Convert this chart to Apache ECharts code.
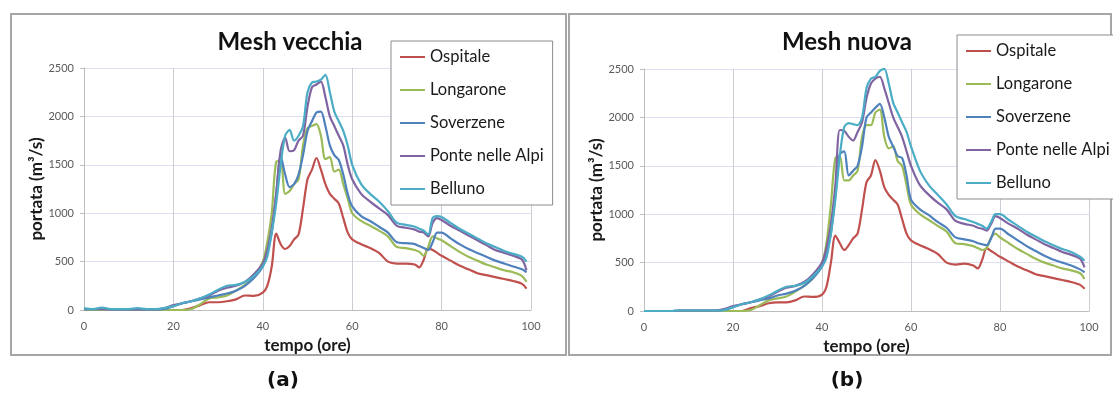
<!DOCTYPE html>
<html>
<head>
<meta charset="utf-8">
<script src="https://cdn.jsdelivr.net/npm/echarts@6/dist/echarts.min.js"></script>
<style>
    html, body {margin: 0; padding: 0; background: #fff;}
    #chart {width: 1113px; height: 395px;}
</style>
</head>
<body>
<div id="chart"></div>
<script>
var seriesNames = ["Ospitale", "Longarone", "Soverzene", "Ponte nelle Alpi", "Belluno"];
var seriesColors = ["#C0504D", "#9BBB59", "#4F81BD", "#8064A2", "#4BACC6"];
var xTicks = [0, 20, 40, 60, 80, 100];
var yTicks = [0, 500, 1000, 1500, 2000, 2500];

// ore
var hours = [0, 2, 4, 6, 8, 10, 12, 14, 16, 18,
    20, 22, 24, 26, 28, 30, 32, 34, 36, 38,
    40, 41, 42, 43, 44, 45, 46, 47, 48, 49, 50,
    51, 52, 53, 54, 55, 56, 57, 58, 59, 60,
    62, 64, 66, 68, 70, 72, 74,
    75, 76, 77, 78, 79, 80,
    82, 84, 86, 88, 90, 92, 94, 96, 98, 99];

// Mesh vecchia
var vecOspitale = [0, 0, 0, 0, 0, 0, 0, 0, 0, 0,
    0, 0, 20, 50, 80, 80, 90, 110, 150, 145,
    180, 250, 450, 790, 680, 630, 660, 730, 780, 1050, 1350,
    1450, 1570, 1450, 1300, 1200, 1150, 1100, 950, 800, 730,
    680, 640, 590, 500, 480, 480, 470,
    440, 520, 640, 620, 590, 560,
    510, 460, 420, 380, 360, 340, 320, 300, 270, 220];
var vecLongarone = [0, 0, 0, 0, 0, 0, 0, 0, 0, 0,
    0, 0, 10, 60, 120, 130, 150, 200, 260, 340,
    500, 700, 1000, 1530, 1540, 1200, 1230, 1300, 1350, 1700, 1880,
    1900, 1920, 1800, 1560, 1580, 1430, 1450, 1300, 1150, 1000,
    920, 870, 820, 760, 650, 640, 620,
    600, 560, 650, 760, 740, 720,
    660, 600, 550, 510, 470, 440, 410, 390, 350, 290];
var vecSoverzene = [10, 10, 10, 5, 5, 5, 5, 5, 5, 10,
    40, 70, 90, 110, 130, 150, 170, 200, 250, 330,
    450, 600, 800, 1200, 1590, 1400, 1270, 1300, 1400, 1600, 1850,
    1950, 2040, 2050, 1900, 1700, 1600, 1550, 1400, 1200, 1070,
    970, 920, 860, 800, 700, 690, 680,
    660, 640, 620, 700, 800, 800,
    740, 680, 630, 590, 550, 510, 480, 450, 420, 390];
var vecPonte = [10, 10, 10, 5, 5, 5, 5, 5, 5, 20,
    50, 70, 90, 120, 150, 200, 230, 250, 290, 370,
    480, 620, 850, 1200, 1650, 1780, 1640, 1650, 1750, 1800, 2100,
    2300, 2330, 2360, 2200, 2000, 1900, 1800, 1700, 1500, 1350,
    1200, 1120, 1050, 980, 870, 850, 830,
    810, 800, 760, 900, 950, 930,
    870, 820, 770, 720, 670, 620, 590, 560, 520, 410];
var vecBelluno = [20, 10, 25, 10, 10, 10, 20, 10, 10, 20,
    40, 70, 90, 120, 160, 210, 250, 260, 290, 350,
    450, 550, 800, 1100, 1500, 1800, 1860, 1750, 1800, 1900, 2250,
    2350, 2360, 2380, 2430, 2250, 2050, 1950, 1850, 1700, 1500,
    1300, 1200, 1120, 1020, 900, 880, 860,
    840, 820, 780, 950, 970, 960,
    900, 840, 790, 740, 690, 650, 610, 580, 550, 500];

// Mesh nuova
var nuoOspitale = [0, 0, 0, 0, 0, 0, 0, 0, 0, 0,
    0, 0, 30, 50, 80, 90, 90, 110, 150, 145,
    170, 250, 500, 780, 700, 630, 680, 750, 800, 1050, 1330,
    1400, 1560, 1450, 1280, 1200, 1150, 1100, 950, 800, 730,
    680, 640, 590, 500, 480, 490, 470,
    440, 530, 650, 620, 590, 560,
    510, 460, 420, 380, 360, 340, 320, 300, 270, 230];
var nuoLongarone = [0, 0, 0, 0, 0, 0, 0, 0, 0, 0,
    0, 0, 10, 60, 110, 130, 150, 200, 260, 340,
    500, 700, 1100, 1580, 1600, 1350, 1350, 1400, 1450, 1800, 1920,
    1920, 2050, 2080, 1800, 1680, 1700, 1550, 1500, 1300, 1100,
    1000, 940, 880, 820, 700, 690, 670,
    650, 630, 650, 760, 800, 760,
    700, 640, 590, 540, 500, 470, 440, 420, 390, 330];
var nuoSoverzene = [0, 0, 0, 0, 5, 5, 5, 5, 5, 10,
    40, 70, 90, 110, 130, 160, 180, 210, 260, 340,
    460, 600, 800, 1200, 1620, 1650, 1400, 1450, 1500, 1700, 2000,
    2050, 2100, 2140, 2000, 1800, 1700, 1600, 1580, 1400, 1150,
    1050, 990, 920, 860, 760, 740, 720,
    700, 690, 680, 750, 850, 850,
    790, 730, 670, 620, 570, 530, 500, 470, 430, 400];
var nuoPonte = [0, 0, 0, 0, 5, 5, 5, 5, 5, 20,
    50, 70, 90, 120, 150, 200, 240, 260, 300, 380,
    500, 650, 900, 1300, 1870, 1860, 1800, 1760, 1850, 1950, 2200,
    2350, 2400, 2420, 2300, 2150, 2000, 1900, 1800, 1650, 1500,
    1300, 1200, 1120, 1050, 930, 900, 880,
    860, 850, 830, 900, 980, 960,
    900, 850, 790, 740, 690, 650, 610, 580, 540, 450];
var nuoBelluno = [0, 0, 0, 0, 5, 5, 5, 5, 5, 10,
    40, 70, 90, 120, 160, 210, 250, 260, 290, 360,
    460, 550, 800, 1150, 1600, 1900, 1940, 1930, 1920, 2000, 2300,
    2400, 2420, 2480, 2500, 2350, 2150, 2050, 1950, 1850, 1700,
    1450, 1300, 1200, 1100, 980, 950, 920,
    900, 880, 850, 920, 1000, 1000,
    940, 880, 820, 770, 720, 680, 640, 610, 560, 520];

var vecData = [vecOspitale, vecLongarone, vecSoverzene, vecPonte, vecBelluno];
var nuoData = [nuoOspitale, nuoLongarone, nuoSoverzene, nuoPonte, nuoBelluno];

var textFont = "Lato";
var myChart = echarts.init(document.getElementById("chart"), null, {renderer: "canvas"});

function toPoints(values) {
    var pts = [];
    for (var i = 0; i < hours.length; i++) {
        pts.push([hours[i], values[i]]);
    }
    return pts;
}

function plainNumber(v) {
    return String(v);
}

function makeXAxis(gridIndex) {
    return {
        type: "value", gridIndex: gridIndex,
        min: xTicks[0], max: xTicks[xTicks.length - 1], interval: xTicks[1] - xTicks[0],
        name: "tempo (ore)", nameLocation: "middle", nameGap: 23,
        nameTextStyle: {fontFamily: textFont, fontWeight: "bold", fontSize: 17, color: "#1a1a1a"},
        axisLine: {lineStyle: {color: "#bdbdbd", width: 1}},
        axisTick: {show: false},
        axisLabel: {fontFamily: textFont, fontSize: 11, color: "#595959", margin: 11, formatter: plainNumber},
        splitLine: {show: true, lineStyle: {color: "#cdcdd6", width: 1}}
    };
}

function makeYAxis(gridIndex) {
    return {
        type: "value", gridIndex: gridIndex,
        min: yTicks[0], max: yTicks[yTicks.length - 1], interval: yTicks[1] - yTicks[0],
        name: "portata (m\u00b3/s)", nameLocation: "middle", nameGap: 38,
        nameTextStyle: {fontFamily: textFont, fontWeight: "bold", fontSize: 17, color: "#1a1a1a"},
        axisLine: {show: true, lineStyle: {color: "#bdbdbd", width: 1}},
        axisTick: {show: true, length: 4, lineStyle: {color: "#bdbdbd"}},
        axisLabel: {fontFamily: textFont, fontSize: 11, color: "#595959", margin: 10, formatter: plainNumber},
        splitLine: {show: true, lineStyle: {color: "#dedff0", width: 1}}
    };
}

function makeLegend(left, top) {
    return {
        data: seriesNames, orient: "vertical", left: left, top: top,
        padding: [7, 9, 7, 9], itemGap: 15,
        itemWidth: 25, itemHeight: 2, icon: "rect",
        borderColor: "#8c8c8c", borderWidth: 1, backgroundColor: "#fff",
        textStyle: {fontFamily: textFont, fontSize: 16.5, color: "#1a1a1a", lineHeight: 18}
    };
}

var series = [];
for (var i = 0; i < seriesNames.length; i++) {
    series.push({name: seriesNames[i], type: "line", xAxisIndex: 0, yAxisIndex: 0,
        data: toPoints(vecData[i]), symbol: "none", smooth: 0.3,
        lineStyle: {width: 2.2, color: seriesColors[i]}, itemStyle: {color: seriesColors[i]}});
}
for (var j = 0; j < seriesNames.length; j++) {
    series.push({name: seriesNames[j], type: "line", xAxisIndex: 1, yAxisIndex: 1,
        data: toPoints(nuoData[j]), symbol: "none", smooth: 0.3,
        lineStyle: {width: 2.2, color: seriesColors[j]}, itemStyle: {color: seriesColors[j]}});
}

var option = {
    animation: false,
    color: seriesColors,
    grid: [
        {left: 84, right: 582, top: 68, bottom: 85},
        {left: 644, right: 24, top: 69, bottom: 84}
    ],
    xAxis: [makeXAxis(0), makeXAxis(1)],
    yAxis: [makeYAxis(0), makeYAxis(1)],
    legend: [makeLegend(391, 41), makeLegend(957, 35)],
    graphic: [
        {type: "rect", shape: {x: 11, y: 14, width: 555, height: 341}, z: -1,
            style: {fill: "none", stroke: "#a6a6a6", lineWidth: 2}},
        {type: "rect", shape: {x: 569, y: 14, width: 542, height: 341}, z: -1,
            style: {fill: "none", stroke: "#a6a6a6", lineWidth: 2}},
        {type: "text", x: 290, y: 42, z: 10,
            style: {text: "Mesh vecchia", fontFamily: textFont, fontWeight: "bold", fontSize: 24,
                fill: "#111", align: "center", verticalAlign: "middle"}},
        {type: "text", x: 847, y: 42, z: 10,
            style: {text: "Mesh nuova", fontFamily: textFont, fontWeight: "bold", fontSize: 24,
                fill: "#111", align: "center", verticalAlign: "middle"}},
        {type: "text", x: 283, y: 381,
            style: {text: "(a)", fontFamily: "DejaVu Sans", fontWeight: "bold", fontSize: 20,
                fill: "#111", align: "center", verticalAlign: "middle"}},
        {type: "text", x: 847, y: 381,
            style: {text: "(b)", fontFamily: "DejaVu Sans", fontWeight: "bold", fontSize: 20,
                fill: "#111", align: "center", verticalAlign: "middle"}}
    ],
    series: series
};
myChart.setOption(option);
</script>
</body>
</html>
